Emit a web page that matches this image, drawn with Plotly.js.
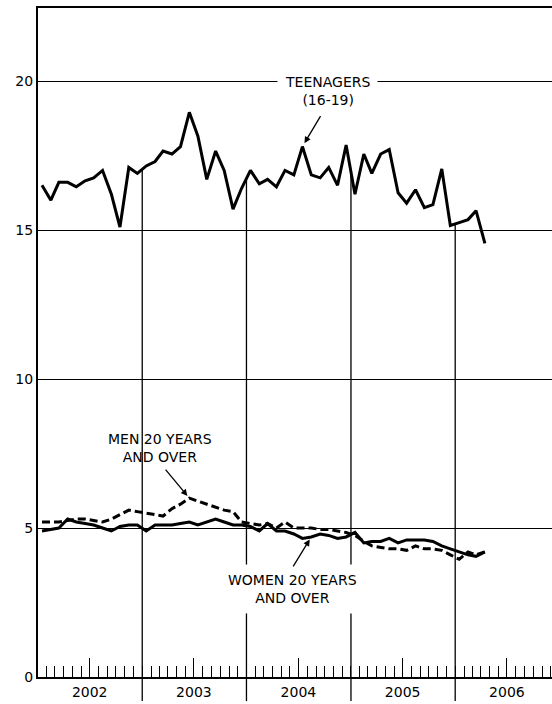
<!DOCTYPE html>
<html>
<head>
<meta charset="utf-8">
<script src="https://cdn.plot.ly/plotly-3.0.1.min.js"></script>
<style>html,body{margin:0;padding:0;background:#fff;}#chart{width:552px;height:704px;}</style>
</head>
<body>
<div id="chart"></div>
<script>
// Monthly unemployment rates, Jan 2002 - Apr 2006 (percent)
var startYear = 2002;
var teenagers = [16.5,16.0,16.6,16.6,16.45,16.65,16.75,17.0,16.2,15.1,17.1,16.9,
                 17.15,17.3,17.65,17.55,17.8,18.95,18.15,16.7,17.65,17.0,15.7,16.4,
                 17.0,16.55,16.7,16.45,17.0,16.85,17.8,16.85,16.75,17.1,16.5,17.85,
                 16.2,17.55,16.9,17.55,17.7,16.25,15.9,16.35,15.75,15.85,17.05,15.15,
                 15.25,15.35,15.65,14.55];
var men20 = [5.2,5.2,5.2,5.25,5.3,5.3,5.25,5.2,5.3,5.45,5.6,5.55,
             5.5,5.45,5.4,5.65,5.8,6.0,5.9,5.8,5.7,5.6,5.55,5.2,
             5.15,5.1,5.15,5.0,5.2,5.0,5.0,5.0,4.95,4.95,4.9,4.85,
             4.75,4.55,4.4,4.35,4.3,4.3,4.25,4.4,4.3,4.3,4.25,4.1,
             3.95,4.2,4.1,4.2];
var women20 = [4.9,4.95,5.0,5.3,5.2,5.15,5.1,5.0,4.9,5.05,5.1,5.1,
               4.9,5.1,5.1,5.1,5.15,5.2,5.1,5.2,5.3,5.2,5.1,5.1,
               5.05,4.9,5.15,4.9,4.9,4.8,4.65,4.7,4.8,4.75,4.65,4.7,
               4.85,4.5,4.55,4.55,4.65,4.5,4.6,4.6,4.6,4.55,4.4,4.3,
               4.2,4.1,4.05,4.2];
var yearLabels = ['2002','2003','2004','2005','2006'];
var yTicks = [0,5,10,15,20];

(function(){
function pad(n){return (n<10?'0':'')+n;}
var months = [], monthStarts = [];
for (var i=0;i<teenagers.length;i++){
  months.push((startYear + Math.floor(i/12))+'-'+pad(i%12+1)+'-15');
}
for (var j=0;j<yearLabels.length*12;j++){
  monthStarts.push((startYear+Math.floor(j/12))+'-'+pad(j%12+1)+'-01');
}
var yearMid = yearLabels.map(function(y){return y+'-07-01';});

var FONT = 'DejaVu Sans, Arial, sans-serif';
var XRANGE = ['2002-01-01','2006-12-06'];
var traces = [
  {x:months, y:teenagers, type:'scatter', mode:'lines', line:{color:'#000', width:3}, name:'Teenagers (16-19)'},
  {x:months, y:men20, type:'scatter', mode:'lines', line:{color:'#000', width:3, dash:'8px,4px'}, name:'Men 20 years and over'},
  {x:months, y:women20, type:'scatter', mode:'lines', line:{color:'#000', width:3}, name:'Women 20 years and over'},
  {x:[months[0]], y:[teenagers[0]], xaxis:'x2', yaxis:'y', type:'scatter', mode:'lines', opacity:0, hoverinfo:'skip', showlegend:false}
];

var shapes = [];
for (var k=1;k<yearLabels.length;k++){
  var idx = k*12;
  var lineTop = (teenagers[idx-1] + teenagers[idx]) / 2;
  var xb = yearLabels[k]+'-01-01';
  shapes.push({type:'line', xref:'x', yref:'y', x0:xb, x1:xb, y0:0, y1:lineTop, line:{color:'#000', width:1.3}, layer:'above'});
  shapes.push({type:'line', xref:'x', yref:'paper', x0:xb, x1:xb, y0:-0.036, y1:0, line:{color:'#000', width:1.3}});
}

var annotations = [
  {xref:'x', yref:'y', x:'2004-10-10', y:19.68, text:'TEENAGERS<br>(16-19)', showarrow:false,
   font:{family:FONT, size:14, color:'#000'}, bgcolor:'#fff', borderpad:7, align:'center'},
  {xref:'x', yref:'y', x:months[30], y:teenagers[30], text:'', showarrow:true, arrowhead:2, arrowsize:1, arrowwidth:1.3,
   arrowcolor:'#000', ax:19, ay:-32, standoff:4},
  {xref:'x', yref:'y', x:'2003-03-05', y:7.67, text:'MEN 20 YEARS<br>AND OVER', showarrow:false,
   font:{family:FONT, size:14, color:'#000'}, align:'center'},
  {xref:'x', yref:'y', x:months[17], y:men20[17], text:'', showarrow:true, arrowhead:2, arrowsize:1, arrowwidth:1.3,
   arrowcolor:'#000', ax:-25, ay:-30, standoff:3},
  {xref:'x', yref:'y', x:'2004-06-10', y:2.95, text:'WOMEN 20 YEARS<br>AND OVER', showarrow:false,
   font:{family:FONT, size:14, color:'#000'}, bgcolor:'#fff', borderpad:7, align:'center'},
  {xref:'x', yref:'y', x:months[31], y:women20[31], text:'', showarrow:true, arrowhead:2, arrowsize:1, arrowwidth:1.3,
   arrowcolor:'#000', ax:-19, ay:31, standoff:3}
];

var layout = {
  width:552, height:704,
  margin:{l:38, r:0, t:8, b:27},
  paper_bgcolor:'#fff', plot_bgcolor:'#fff',
  showlegend:false,
  font:{family:FONT, size:14, color:'#000'},
  xaxis:{type:'date', range:XRANGE, tickmode:'array', tickvals:monthStarts,
    ticks:'inside', ticklen:11, tickwidth:1, tickcolor:'#000', showticklabels:false,
    showgrid:false, zeroline:false, showline:true, linecolor:'#000', linewidth:2, mirror:true, fixedrange:true},
  xaxis2:{type:'date', range:XRANGE, overlaying:'x', anchor:'y', side:'bottom',
    tickmode:'array', tickvals:yearMid, ticktext:yearLabels,
    ticks:'inside', ticklen:19, tickwidth:1, tickcolor:'#000',
    showgrid:false, zeroline:false, showline:false, ticklabelstandoff:5,
    tickfont:{family:FONT, size:14, color:'#000'}, fixedrange:true},
  yaxis:{range:[0,22.45], tickmode:'array', tickvals:yTicks, ticks:'', showgrid:true, gridcolor:'#000', gridwidth:1,
    zeroline:false, showline:true, linecolor:'#000', linewidth:2,
    tickfont:{family:FONT, size:14, color:'#000'}, fixedrange:true},
  shapes:shapes,
  annotations:annotations
};

Plotly.newPlot('chart', traces, layout, {displayModeBar:false, staticPlot:true});
})();
</script>
</body>
</html>
